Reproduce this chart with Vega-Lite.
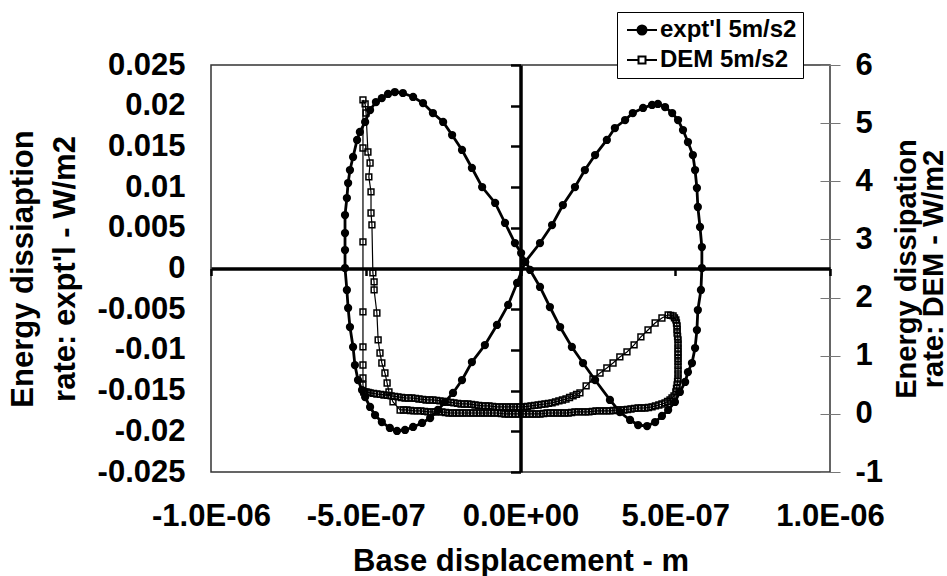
{
  "$schema": "https://vega.github.io/schema/vega-lite/v6.json",
  "width": 619,
  "height": 407,
  "autosize": {"type": "none"},
  "padding": {"left": 211, "top": 65, "right": 117, "bottom": 104},
  "background": "white",
  "config": {
    "locale": {"number": {"decimal": ".", "thousands": ",", "grouping": [3], "currency": ["", ""], "minus": "-"}},
    "font": "Liberation Sans",
    "view": {"stroke": "#333", "strokeWidth": 1.5},
    "axis": {
      "grid": false,
      "labelFont": "Liberation Sans", "labelFontSize": 31, "labelFontWeight": "bold", "labelColor": "#000",
      "titleFont": "Liberation Sans", "titleFontSize": 31, "titleFontWeight": "bold", "titleColor": "#000"
    },
    "legend": {
      "labelFont": "Liberation Sans", "labelFontSize": 24, "labelFontWeight": "bold", "labelColor": "#000",
      "strokeColor": "#000", "fillColor": "#fff", "padding": 6, "cornerRadius": 0,
      "symbolSize": 100, "symbolStrokeWidth": 2, "symbolOpacity": 1,
      "symbolOffset": 7, "labelOffset": 6, "rowPadding": 6
    }
  },
  "resolve": {
    "scale": {"x": "independent", "y": "independent"},
    "axis": {"x": "independent", "y": "independent"}
  },
  "layer": [
    {
      "data": {"values": [
        {"i": 1, "x": 1.5e-8, "y": 0.0008},
        {"i": 2, "x": 6.3e-8, "y": 0.00313},
        {"i": 3, "x": 1.02e-7, "y": 0.00534},
        {"i": 4, "x": 1.37e-7, "y": 0.0078},
        {"i": 5, "x": 1.76e-7, "y": 0.01001},
        {"i": 6, "x": 2.08e-7, "y": 0.0121},
        {"i": 7, "x": 2.41e-7, "y": 0.01394},
        {"i": 8, "x": 2.79e-7, "y": 0.01579},
        {"i": 9, "x": 3.05e-7, "y": 0.01726},
        {"i": 10, "x": 3.38e-7, "y": 0.01824},
        {"i": 11, "x": 3.63e-7, "y": 0.0191},
        {"i": 12, "x": 3.96e-7, "y": 0.01972},
        {"i": 13, "x": 4.25e-7, "y": 0.02009},
        {"i": 14, "x": 4.44e-7, "y": 0.02021},
        {"i": 15, "x": 4.67e-7, "y": 0.01984},
        {"i": 16, "x": 4.9e-7, "y": 0.0191},
        {"i": 17, "x": 5.09e-7, "y": 0.01824},
        {"i": 18, "x": 5.25e-7, "y": 0.01701},
        {"i": 19, "x": 5.41e-7, "y": 0.01554},
        {"i": 20, "x": 5.57e-7, "y": 0.01394},
        {"i": 21, "x": 5.64e-7, "y": 0.0121},
        {"i": 22, "x": 5.7e-7, "y": 0.00989},
        {"i": 23, "x": 5.73e-7, "y": 0.00756},
        {"i": 24, "x": 5.8e-7, "y": 0.0051},
        {"i": 25, "x": 5.86e-7, "y": 0.00264},
        {"i": 26, "x": 5.86e-7, "y": 0.00006},
        {"i": 27, "x": 5.83e-7, "y": -0.00264},
        {"i": 28, "x": 5.73e-7, "y": -0.0051},
        {"i": 29, "x": 5.7e-7, "y": -0.00756},
        {"i": 30, "x": 5.64e-7, "y": -0.00977},
        {"i": 31, "x": 5.54e-7, "y": -0.01161},
        {"i": 32, "x": 5.41e-7, "y": -0.01272},
        {"i": 33, "x": 5.32e-7, "y": -0.01394},
        {"i": 34, "x": 5.15e-7, "y": -0.01517},
        {"i": 35, "x": 4.99e-7, "y": -0.0164},
        {"i": 36, "x": 4.77e-7, "y": -0.01738},
        {"i": 37, "x": 4.57e-7, "y": -0.01812},
        {"i": 38, "x": 4.35e-7, "y": -0.01886},
        {"i": 39, "x": 4.09e-7, "y": -0.01935},
        {"i": 40, "x": 3.8e-7, "y": -0.01923},
        {"i": 41, "x": 3.54e-7, "y": -0.01861},
        {"i": 42, "x": 3.21e-7, "y": -0.01763},
        {"i": 43, "x": 2.89e-7, "y": -0.01615},
        {"i": 44, "x": 2.41e-7, "y": -0.0137},
        {"i": 45, "x": 2.02e-7, "y": -0.01161},
        {"i": 46, "x": 1.66e-7, "y": -0.00964},
        {"i": 47, "x": 1.28e-7, "y": -0.00719},
        {"i": 48, "x": 9.5e-8, "y": -0.00473},
        {"i": 49, "x": 6.3e-8, "y": -0.00227},
        {"i": 50, "x": 3.1e-8, "y": -0.00018},
        {"i": 51, "x": 2e-9, "y": 0.0019},
        {"i": 52, "x": -1.8e-8, "y": 0.00313},
        {"i": 53, "x": -5e-8, "y": 0.00559},
        {"i": 54, "x": -8.2e-8, "y": 0.00805},
        {"i": 55, "x": -1.24e-7, "y": 0.01001},
        {"i": 56, "x": -1.57e-7, "y": 0.01235},
        {"i": 57, "x": -1.89e-7, "y": 0.01456},
        {"i": 58, "x": -2.21e-7, "y": 0.0164},
        {"i": 59, "x": -2.5e-7, "y": 0.018},
        {"i": 60, "x": -2.83e-7, "y": 0.0191},
        {"i": 61, "x": -3.15e-7, "y": 0.02033},
        {"i": 62, "x": -3.47e-7, "y": 0.02107},
        {"i": 63, "x": -3.8e-7, "y": 0.02156},
        {"i": 64, "x": -4.06e-7, "y": 0.02168},
        {"i": 65, "x": -4.28e-7, "y": 0.02144},
        {"i": 66, "x": -4.48e-7, "y": 0.02094},
        {"i": 67, "x": -4.67e-7, "y": 0.02045},
        {"i": 68, "x": -4.86e-7, "y": 0.01947},
        {"i": 69, "x": -5.02e-7, "y": 0.018},
        {"i": 70, "x": -5.19e-7, "y": 0.01677},
        {"i": 71, "x": -5.28e-7, "y": 0.01579},
        {"i": 72, "x": -5.41e-7, "y": 0.0137},
        {"i": 73, "x": -5.51e-7, "y": 0.0121},
        {"i": 74, "x": -5.57e-7, "y": 0.0105},
        {"i": 75, "x": -5.61e-7, "y": 0.00866},
        {"i": 76, "x": -5.67e-7, "y": 0.00657},
        {"i": 77, "x": -5.67e-7, "y": 0.00436},
        {"i": 78, "x": -5.67e-7, "y": 0.00227},
        {"i": 79, "x": -5.67e-7, "y": 0.00006},
        {"i": 80, "x": -5.61e-7, "y": -0.00264},
        {"i": 81, "x": -5.57e-7, "y": -0.00485},
        {"i": 82, "x": -5.51e-7, "y": -0.00719},
        {"i": 83, "x": -5.41e-7, "y": -0.00964},
        {"i": 84, "x": -5.35e-7, "y": -0.01186},
        {"i": 85, "x": -5.25e-7, "y": -0.0137},
        {"i": 86, "x": -5.12e-7, "y": -0.01493},
        {"i": 87, "x": -5.02e-7, "y": -0.01579},
        {"i": 88, "x": -4.86e-7, "y": -0.01701},
        {"i": 89, "x": -4.7e-7, "y": -0.018},
        {"i": 90, "x": -4.48e-7, "y": -0.01886},
        {"i": 91, "x": -4.22e-7, "y": -0.01959},
        {"i": 92, "x": -3.99e-7, "y": -0.01996},
        {"i": 93, "x": -3.73e-7, "y": -0.01984},
        {"i": 94, "x": -3.47e-7, "y": -0.01947},
        {"i": 95, "x": -3.18e-7, "y": -0.01898},
        {"i": 96, "x": -2.92e-7, "y": -0.01837},
        {"i": 97, "x": -2.67e-7, "y": -0.01738},
        {"i": 98, "x": -2.44e-7, "y": -0.0164},
        {"i": 99, "x": -2.18e-7, "y": -0.01529},
        {"i": 100, "x": -1.89e-7, "y": -0.0137},
        {"i": 101, "x": -1.57e-7, "y": -0.01149},
        {"i": 102, "x": -1.15e-7, "y": -0.0094},
        {"i": 103, "x": -7.6e-8, "y": -0.00694},
        {"i": 104, "x": -4e-8, "y": -0.00448},
        {"i": 105, "x": -1.1e-8, "y": -0.00178},
        {"i": 106, "x": 1.5e-8, "y": 0.0008}
      ]},
      "mark": {"type": "line", "color": "#000", "strokeWidth": 2.8, "point": {"filled": true, "size": 68, "color": "#000"}},
      "encoding": {
        "order": {"field": "i", "type": "quantitative"},
        "x": {
          "field": "x", "type": "quantitative",
          "scale": {"domain": [-1e-6, 1e-6], "nice": false, "zero": false},
          "axis": {
            "orient": "bottom", "values": [-1e-6, -5e-7, 0, 5e-7, 1e-6],
            "labelExpr": "replace(replace(format(datum.value, '.1e'), 'e-', 'E-0'), 'e+', 'E+0')",
            "ticks": false, "tickSize": 0, "domain": false, "labelPadding": 29,
            "labelFlush": false, "labelOverlap": false,
            "title": "Base displacement - m", "titlePadding": 15
          }
        },
        "y": {
          "field": "y", "type": "quantitative",
          "scale": {"domain": [-0.025, 0.025], "nice": false, "zero": false},
          "axis": {
            "orient": "left",
            "values": [-0.025, -0.02, -0.015, -0.01, -0.005, 0, 0.005, 0.01, 0.015, 0.02, 0.025],
            "format": "~g", "ticks": false, "tickSize": 0, "domain": false, "labelPadding": 26,
            "labelOverlap": false, "labelFlush": false,
            "title": ["Energy dissiaption", "rate: expt'l - W/m2"], "titlePadding": 16, "titleLineHeight": 42
          }
        }
      }
    },
    {
      "data": {"values": [
        {"i": 1, "x": -5.06e-7, "dem": 0.377},
        {"i": 2, "x": -5.09e-7, "dem": 0.497},
        {"i": 3, "x": -5.09e-7, "dem": 0.617},
        {"i": 4, "x": -5.09e-7, "dem": 0.841},
        {"i": 5, "x": -5.09e-7, "dem": 1.151},
        {"i": 6, "x": -5.09e-7, "dem": 1.753},
        {"i": 7, "x": -5.09e-7, "dem": 2.957},
        {"i": 8, "x": -5.09e-7, "dem": 4.573},
        {"i": 9, "x": -5.09e-7, "dem": 5.399},
        {"i": 10, "x": -5.02e-7, "dem": 5.33},
        {"i": 11, "x": -4.99e-7, "dem": 5.175},
        {"i": 12, "x": -4.93e-7, "dem": 4.504},
        {"i": 13, "x": -4.86e-7, "dem": 4.315},
        {"i": 14, "x": -4.9e-7, "dem": 4.075},
        {"i": 15, "x": -4.83e-7, "dem": 3.817},
        {"i": 16, "x": -4.83e-7, "dem": 3.455},
        {"i": 17, "x": -4.8e-7, "dem": 3.249},
        {"i": 18, "x": -4.77e-7, "dem": 2.424},
        {"i": 19, "x": -4.73e-7, "dem": 2.269},
        {"i": 20, "x": -4.73e-7, "dem": 2.131},
        {"i": 21, "x": -4.64e-7, "dem": 1.735},
        {"i": 22, "x": -4.6e-7, "dem": 1.271},
        {"i": 23, "x": -4.54e-7, "dem": 1.047},
        {"i": 24, "x": -4.48e-7, "dem": 0.875},
        {"i": 25, "x": -4.38e-7, "dem": 0.703},
        {"i": 26, "x": -4.31e-7, "dem": 0.531},
        {"i": 27, "x": -4.25e-7, "dem": 0.377},
        {"i": 28, "x": -4.12e-7, "dem": 0.205},
        {"i": 29, "x": -3.89e-7, "dem": 0.067},
        {"i": 30, "x": -3.78e-7, "dem": 0.067},
        {"i": 31, "x": -3.67e-7, "dem": 0.067},
        {"i": 32, "x": -3.555e-7, "dem": 0.058},
        {"i": 33, "x": -3.44e-7, "dem": 0.05},
        {"i": 34, "x": -3.33e-7, "dem": 0.05},
        {"i": 35, "x": -3.22e-7, "dem": 0.05},
        {"i": 36, "x": -3.105e-7, "dem": 0.042},
        {"i": 37, "x": -2.99e-7, "dem": 0.033},
        {"i": 38, "x": -2.875e-7, "dem": 0.033},
        {"i": 39, "x": -2.76e-7, "dem": 0.033},
        {"i": 40, "x": -2.65e-7, "dem": 0.033},
        {"i": 41, "x": -2.54e-7, "dem": 0.033},
        {"i": 42, "x": -2.425e-7, "dem": 0.024},
        {"i": 43, "x": -2.31e-7, "dem": 0.015},
        {"i": 44, "x": -2.195e-7, "dem": 0.015},
        {"i": 45, "x": -2.08e-7, "dem": 0.015},
        {"i": 46, "x": -1.97e-7, "dem": 0.015},
        {"i": 47, "x": -1.86e-7, "dem": 0.015},
        {"i": 48, "x": -1.745e-7, "dem": 0.015},
        {"i": 49, "x": -1.63e-7, "dem": 0.015},
        {"i": 50, "x": -1.52e-7, "dem": 0.015},
        {"i": 51, "x": -1.41e-7, "dem": 0.015},
        {"i": 52, "x": -1.295e-7, "dem": 0.015},
        {"i": 53, "x": -1.18e-7, "dem": 0.015},
        {"i": 54, "x": -1.065e-7, "dem": 0.015},
        {"i": 55, "x": -9.5e-8, "dem": 0.015},
        {"i": 56, "x": -8.4e-8, "dem": 0.015},
        {"i": 57, "x": -7.3e-8, "dem": 0.015},
        {"i": 58, "x": -6.15e-8, "dem": 0.006},
        {"i": 59, "x": -5e-8, "dem": -0.002},
        {"i": 60, "x": -3.85e-8, "dem": -0.002},
        {"i": 61, "x": -2.7e-8, "dem": -0.002},
        {"i": 62, "x": -1.6e-8, "dem": -0.002},
        {"i": 63, "x": -5e-9, "dem": -0.002},
        {"i": 64, "x": 6.5e-9, "dem": -0.002},
        {"i": 65, "x": 1.8e-8, "dem": -0.002},
        {"i": 66, "x": 2.9e-8, "dem": -0.002},
        {"i": 67, "x": 4e-8, "dem": -0.002},
        {"i": 68, "x": 5.15e-8, "dem": -0.002},
        {"i": 69, "x": 6.3e-8, "dem": -0.002},
        {"i": 70, "x": 7.45e-8, "dem": 0.006},
        {"i": 71, "x": 8.6e-8, "dem": 0.015},
        {"i": 72, "x": 9.7e-8, "dem": 0.015},
        {"i": 73, "x": 1.08e-7, "dem": 0.015},
        {"i": 74, "x": 1.195e-7, "dem": 0.015},
        {"i": 75, "x": 1.31e-7, "dem": 0.015},
        {"i": 76, "x": 1.425e-7, "dem": 0.015},
        {"i": 77, "x": 1.54e-7, "dem": 0.015},
        {"i": 78, "x": 1.65e-7, "dem": 0.024},
        {"i": 79, "x": 1.76e-7, "dem": 0.033},
        {"i": 80, "x": 1.875e-7, "dem": 0.033},
        {"i": 81, "x": 1.99e-7, "dem": 0.033},
        {"i": 82, "x": 2.1e-7, "dem": 0.033},
        {"i": 83, "x": 2.21e-7, "dem": 0.033},
        {"i": 84, "x": 2.325e-7, "dem": 0.042},
        {"i": 85, "x": 2.44e-7, "dem": 0.05},
        {"i": 86, "x": 2.555e-7, "dem": 0.05},
        {"i": 87, "x": 2.67e-7, "dem": 0.05},
        {"i": 88, "x": 2.78e-7, "dem": 0.05},
        {"i": 89, "x": 2.89e-7, "dem": 0.05},
        {"i": 90, "x": 3.005e-7, "dem": 0.058},
        {"i": 91, "x": 3.12e-7, "dem": 0.067},
        {"i": 92, "x": 3.23e-7, "dem": 0.067},
        {"i": 93, "x": 3.34e-7, "dem": 0.067},
        {"i": 94, "x": 3.455e-7, "dem": 0.075},
        {"i": 95, "x": 3.57e-7, "dem": 0.084},
        {"i": 96, "x": 3.685e-7, "dem": 0.093},
        {"i": 97, "x": 3.8e-7, "dem": 0.101},
        {"i": 98, "x": 3.91e-7, "dem": 0.101},
        {"i": 99, "x": 4.02e-7, "dem": 0.101},
        {"i": 100, "x": 4.135e-7, "dem": 0.11},
        {"i": 101, "x": 4.25e-7, "dem": 0.119},
        {"i": 102, "x": 4.36e-7, "dem": 0.136},
        {"i": 103, "x": 4.47e-7, "dem": 0.153},
        {"i": 104, "x": 4.57e-7, "dem": 0.17},
        {"i": 105, "x": 4.67e-7, "dem": 0.188},
        {"i": 106, "x": 4.75e-7, "dem": 0.213},
        {"i": 107, "x": 4.83e-7, "dem": 0.239},
        {"i": 108, "x": 4.895e-7, "dem": 0.273},
        {"i": 109, "x": 4.96e-7, "dem": 0.308},
        {"i": 110, "x": 5.02e-7, "dem": 0.377},
        {"i": 111, "x": 5.04e-7, "dem": 0.437},
        {"i": 112, "x": 5.06e-7, "dem": 0.497},
        {"i": 113, "x": 5.075e-7, "dem": 0.557},
        {"i": 114, "x": 5.09e-7, "dem": 0.617},
        {"i": 115, "x": 5.09e-7, "dem": 0.686},
        {"i": 116, "x": 5.09e-7, "dem": 0.755},
        {"i": 117, "x": 5.09e-7, "dem": 0.824},
        {"i": 118, "x": 5.09e-7, "dem": 0.893},
        {"i": 119, "x": 5.09e-7, "dem": 0.953},
        {"i": 120, "x": 5.09e-7, "dem": 1.013},
        {"i": 121, "x": 5.09e-7, "dem": 1.073},
        {"i": 122, "x": 5.09e-7, "dem": 1.133},
        {"i": 123, "x": 5.09e-7, "dem": 1.202},
        {"i": 124, "x": 5.09e-7, "dem": 1.271},
        {"i": 125, "x": 5.075e-7, "dem": 1.331},
        {"i": 126, "x": 5.06e-7, "dem": 1.391},
        {"i": 127, "x": 5.06e-7, "dem": 1.452},
        {"i": 128, "x": 5.06e-7, "dem": 1.512},
        {"i": 129, "x": 5.04e-7, "dem": 1.563},
        {"i": 130, "x": 5.02e-7, "dem": 1.615},
        {"i": 131, "x": 4.975e-7, "dem": 1.65},
        {"i": 132, "x": 4.93e-7, "dem": 1.684},
        {"i": 133, "x": 4.85e-7, "dem": 1.693},
        {"i": 134, "x": 4.77e-7, "dem": 1.701},
        {"i": 135, "x": 4.57e-7, "dem": 1.649},
        {"i": 136, "x": 4.35e-7, "dem": 1.563},
        {"i": 137, "x": 4.12e-7, "dem": 1.443},
        {"i": 138, "x": 3.89e-7, "dem": 1.323},
        {"i": 139, "x": 3.67e-7, "dem": 1.185},
        {"i": 140, "x": 3.44e-7, "dem": 1.065},
        {"i": 141, "x": 3.21e-7, "dem": 0.979},
        {"i": 142, "x": 2.99e-7, "dem": 0.875},
        {"i": 143, "x": 2.79e-7, "dem": 0.789},
        {"i": 144, "x": 2.57e-7, "dem": 0.703},
        {"i": 145, "x": 2.34e-7, "dem": 0.6},
        {"i": 146, "x": 2.12e-7, "dem": 0.48},
        {"i": 147, "x": 1.92e-7, "dem": 0.36},
        {"i": 148, "x": 1.81e-7, "dem": 0.334},
        {"i": 149, "x": 1.7e-7, "dem": 0.308},
        {"i": 150, "x": 1.585e-7, "dem": 0.282},
        {"i": 151, "x": 1.47e-7, "dem": 0.256},
        {"i": 152, "x": 1.355e-7, "dem": 0.239},
        {"i": 153, "x": 1.24e-7, "dem": 0.222},
        {"i": 154, "x": 1.13e-7, "dem": 0.205},
        {"i": 155, "x": 1.02e-7, "dem": 0.188},
        {"i": 156, "x": 9.05e-8, "dem": 0.179},
        {"i": 157, "x": 7.9e-8, "dem": 0.17},
        {"i": 158, "x": 6.8e-8, "dem": 0.162},
        {"i": 159, "x": 5.7e-8, "dem": 0.153},
        {"i": 160, "x": 4.55e-8, "dem": 0.145},
        {"i": 161, "x": 3.4e-8, "dem": 0.136},
        {"i": 162, "x": 2.25e-8, "dem": 0.128},
        {"i": 163, "x": 1.1e-8, "dem": 0.119},
        {"i": 164, "x": 0, "dem": 0.119},
        {"i": 165, "x": -1.1e-8, "dem": 0.119},
        {"i": 166, "x": -2.25e-8, "dem": 0.119},
        {"i": 167, "x": -3.4e-8, "dem": 0.119},
        {"i": 168, "x": -4.55e-8, "dem": 0.119},
        {"i": 169, "x": -5.7e-8, "dem": 0.119},
        {"i": 170, "x": -6.8e-8, "dem": 0.119},
        {"i": 171, "x": -7.9e-8, "dem": 0.119},
        {"i": 172, "x": -9.05e-8, "dem": 0.128},
        {"i": 173, "x": -1.02e-7, "dem": 0.136},
        {"i": 174, "x": -1.13e-7, "dem": 0.136},
        {"i": 175, "x": -1.24e-7, "dem": 0.136},
        {"i": 176, "x": -1.355e-7, "dem": 0.145},
        {"i": 177, "x": -1.47e-7, "dem": 0.153},
        {"i": 178, "x": -1.585e-7, "dem": 0.162},
        {"i": 179, "x": -1.7e-7, "dem": 0.17},
        {"i": 180, "x": -1.81e-7, "dem": 0.17},
        {"i": 181, "x": -1.92e-7, "dem": 0.17},
        {"i": 182, "x": -2.035e-7, "dem": 0.179},
        {"i": 183, "x": -2.15e-7, "dem": 0.188},
        {"i": 184, "x": -2.26e-7, "dem": 0.197},
        {"i": 185, "x": -2.37e-7, "dem": 0.205},
        {"i": 186, "x": -2.485e-7, "dem": 0.214},
        {"i": 187, "x": -2.6e-7, "dem": 0.222},
        {"i": 188, "x": -2.715e-7, "dem": 0.231},
        {"i": 189, "x": -2.83e-7, "dem": 0.239},
        {"i": 190, "x": -2.94e-7, "dem": 0.239},
        {"i": 191, "x": -3.05e-7, "dem": 0.239},
        {"i": 192, "x": -3.165e-7, "dem": 0.248},
        {"i": 193, "x": -3.28e-7, "dem": 0.256},
        {"i": 194, "x": -3.395e-7, "dem": 0.265},
        {"i": 195, "x": -3.51e-7, "dem": 0.273},
        {"i": 196, "x": -3.62e-7, "dem": 0.273},
        {"i": 197, "x": -3.73e-7, "dem": 0.273},
        {"i": 198, "x": -3.845e-7, "dem": 0.282},
        {"i": 199, "x": -3.96e-7, "dem": 0.291},
        {"i": 200, "x": -4.07e-7, "dem": 0.3},
        {"i": 201, "x": -4.18e-7, "dem": 0.308},
        {"i": 202, "x": -4.295e-7, "dem": 0.317},
        {"i": 203, "x": -4.41e-7, "dem": 0.325},
        {"i": 204, "x": -4.525e-7, "dem": 0.334},
        {"i": 205, "x": -4.64e-7, "dem": 0.342},
        {"i": 206, "x": -4.75e-7, "dem": 0.351},
        {"i": 207, "x": -4.86e-7, "dem": 0.36},
        {"i": 208, "x": -4.925e-7, "dem": 0.369},
        {"i": 209, "x": -4.99e-7, "dem": 0.377},
        {"i": 210, "x": -5.06e-7, "dem": 0.377}
      ]},
      "mark": {"type": "line", "color": "#000", "strokeWidth": 1.2, "point": {"filled": false, "shape": "square", "size": 34, "color": "#000", "strokeWidth": 1.5}},
      "encoding": {
        "order": {"field": "i", "type": "quantitative"},
        "x": {
          "field": "x", "type": "quantitative",
          "scale": {"domain": [-1e-6, 1e-6], "nice": false, "zero": false},
          "axis": null
        },
        "y": {
          "field": "dem", "type": "quantitative",
          "scale": {"domain": [-1, 6], "nice": false, "zero": false},
          "axis": {
            "orient": "right", "values": [-1, 0, 1, 2, 3, 4, 5, 6], "format": "d",
            "offset": -10, "tickSize": 20, "tickWidth": 1, "tickColor": "#777", "domain": false,
            "labelPadding": 15, "labelAlign": "left", "labelOverlap": false, "labelFlush": false,
            "title": ["Energy dissipation", "rate: DEM - W/m2"], "titleAngle": -90, "titleBaseline": "top",
            "titleAlign": "center", "titleX": 72, "titleY": 203.5, "titleLineHeight": 27, "titleFontSize": 29
          }
        }
      }
    },
    {
      "data": {"values": [
        {"series": "expt'l 5m/s2", "x": 0, "y": 0},
        {"series": "DEM 5m/s2", "x": 0, "y": 0}
      ]},
      "mark": {"type": "point", "size": 0, "filled": true, "strokeWidth": 2},
      "encoding": {
        "x": {
          "field": "x", "type": "quantitative",
          "scale": {"domain": [-1e-6, 1e-6], "nice": false, "zero": false},
          "axis": {
            "orient": "bottom", "offset": -203.5, "values": [-1e-6, -5e-7, 0, 5e-7, 1e-6],
            "labels": false, "title": null, "domain": true, "domainColor": "#000", "domainWidth": 3.5,
            "ticks": true, "tickSize": 7, "tickWidth": 2.5, "tickColor": "#000"
          }
        },
        "y": {
          "field": "y", "type": "quantitative",
          "scale": {"domain": [-0.025, 0.025], "nice": false, "zero": false},
          "axis": {
            "orient": "left", "offset": -309.5,
            "values": [-0.025, -0.02, -0.015, -0.01, -0.005, 0, 0.005, 0.01, 0.015, 0.02, 0.025],
            "labels": false, "title": null, "domain": true, "domainColor": "#000", "domainWidth": 3.5,
            "ticks": true, "tickSize": 10, "tickWidth": 2.5, "tickColor": "#000"
          }
        },
        "shape": {
          "field": "series", "type": "nominal",
          "scale": {
            "domain": ["expt'l 5m/s2", "DEM 5m/s2"],
            "range": ["M-3,0H3M0.9,0A0.9,0.9,0,1,1,-0.9,0A0.9,0.9,0,1,1,0.9,0Z", "M-3,0H-0.7M0.7,0H3M-0.7,-0.7H0.7V0.7H-0.7Z"]
          },
          "legend": {"title": null, "orient": "none", "legendX": 406, "legendY": -53}
        },
        "fill": {
          "field": "series", "type": "nominal",
          "scale": {"domain": ["expt'l 5m/s2", "DEM 5m/s2"], "range": ["#000", "#fff"]},
          "legend": {"title": null, "orient": "none", "legendX": 406, "legendY": -53}
        },
        "stroke": {
          "field": "series", "type": "nominal",
          "scale": {"domain": ["expt'l 5m/s2", "DEM 5m/s2"], "range": ["#000", "#000"]},
          "legend": {"title": null, "orient": "none", "legendX": 406, "legendY": -53}
        }
      }
    }
  ]
}
